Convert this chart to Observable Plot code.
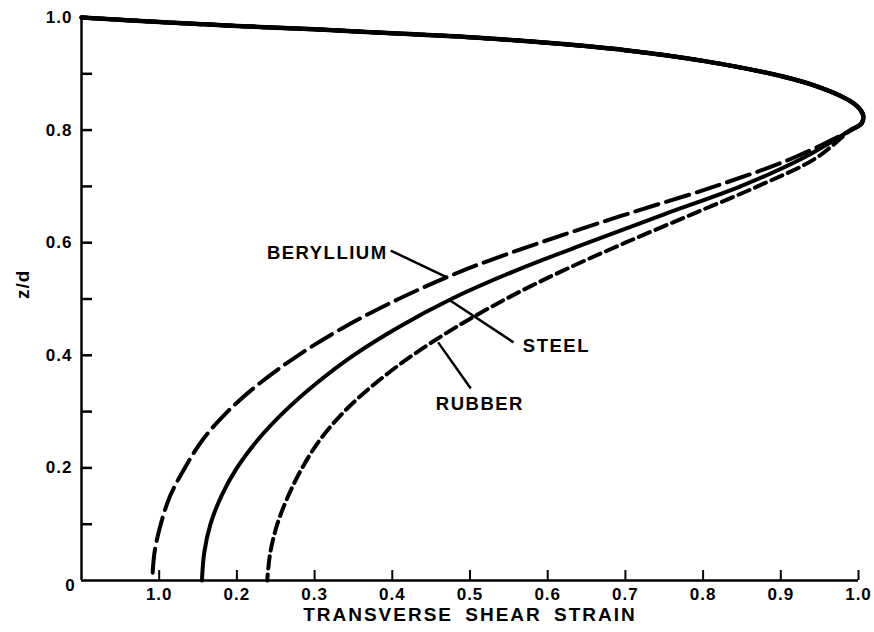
<!DOCTYPE html>
<html><head><meta charset="utf-8">
<script src="https://cdn.jsdelivr.net/npm/d3@7"></script>
<script src="https://cdn.jsdelivr.net/npm/@observablehq/plot@0.6"></script>
<style>
body{margin:0;background:#fff}
#chart svg{display:block}
#chart text{letter-spacing:1px}
#chart .title text{letter-spacing:2px;word-spacing:5px}
#chart .lab text{letter-spacing:1.5px}
</style>
</head><body><div id="chart"></div>
<script>
// Shared upper part of the curve (all three materials coincide), from z/d = 1 down to the split
const topX = [0, 0.1, 0.2, 0.3, 0.4, 0.5, 0.6, 0.7, 0.8, 0.9, 0.95, 0.985, 1.0, 1.006, 1.004, 0.99];
const topY = [1.0, 0.992, 0.985, 0.979, 0.972, 0.965, 0.955, 0.942, 0.923, 0.896, 0.876, 0.855, 0.84, 0.826, 0.812, 0.80];

// Lower branches, z/d from 0.75 down to 0
const branchY = [0.75, 0.7, 0.65, 0.6, 0.55, 0.5, 0.45, 0.4, 0.35, 0.3, 0.25, 0.2, 0.15, 0.1, 0.05, 0.0];
const berylliumX = [0.915, 0.815, 0.70, 0.59, 0.49, 0.408, 0.338, 0.279, 0.229, 0.188, 0.156, 0.133, 0.114, 0.102, 0.094, 0.091];
const steelX     = [0.928, 0.848, 0.749, 0.652, 0.558, 0.476, 0.408, 0.350, 0.302, 0.261, 0.227, 0.20, 0.18, 0.166, 0.158, 0.155];
const rubberX    = [0.945, 0.87, 0.785, 0.70, 0.619, 0.546, 0.482, 0.426, 0.378, 0.338, 0.307, 0.284, 0.266, 0.252, 0.243, 0.239];

// Tick values and labels (as printed on the original)
const xTickValues = [0.1, 0.2, 0.3, 0.4, 0.5, 0.6, 0.7, 0.8, 0.9, 1.0];
const xTickLabels = ["1.0", "0.2", "0.3", "0.4", "0.5", "0.6", "0.7", "0.8", "0.9", "1.0"];
const yTickValues = [0.2, 0.4, 0.6, 0.8, 1.0];
const yTickLabels = ["0.2", "0.4", "0.6", "0.8", "1.0"];
const yMinorTicks = [0.1, 0.3, 0.5, 0.7, 0.9];

// Curve labels and leader lines
const labelNames = ["BERYLLIUM", "STEEL", "RUBBER"];
const labelX = [0.394, 0.568, 0.456];
const labelY = [0.581, 0.416, 0.314];
const labelAnchor = ["end", "start", "start"];
const leaderX1 = [0.398, 0.556, 0.501];
const leaderY1 = [0.586, 0.423, 0.341];
const leaderX2 = [0.471, 0.475, 0.459];
const leaderY2 = [0.538, 0.497, 0.423];

const zip = (xs, ys) => xs.map((x, i) => ({x, y: ys[i]}));
const topData = zip(topX, topY);
const beData = topData.concat(zip(berylliumX, branchY));
const stData = topData.concat(zip(steelX, branchY));
const ruData = topData.concat(zip(rubberX, branchY));
const xTicks = xTickValues.map((v, i) => ({v, label: xTickLabels[i]}));
const yTicks = yTickValues.map((v, i) => ({v, label: yTickLabels[i]}));
const labels = labelNames.map((t, i) => ({t, x: labelX[i], y: labelY[i], a: labelAnchor[i]}));
const leaders = leaderX1.map((x1, i) => ({x1, y1: leaderY1[i], x2: leaderX2[i], y2: leaderY2[i]}));

const font = "'Liberation Sans', Arial, sans-serif";
const chart = Plot.plot({
  width: 874, height: 632,
  marginLeft: 81, marginRight: 16, marginTop: 17, marginBottom: 52,
  x: {domain: [0, 1], axis: null},
  y: {domain: [0, 1], axis: null},
  style: {fontFamily: font, background: "white", color: "black"},
  marks: [
    // axis lines
    Plot.ruleX([0], {y1: 0, y2: 1, stroke: "black", strokeWidth: 2.5}),
    Plot.ruleY([0], {x1: 0, x2: 1, stroke: "black", strokeWidth: 2.5}),
    // inward ticks
    Plot.ruleY([...yTickValues, ...yMinorTicks], {x1: 0, x2: 0, insetRight: -11, stroke: "black", strokeWidth: 2.5}),
    Plot.ruleX(xTickValues, {y1: 0, y2: 0, insetTop: -10, stroke: "black", strokeWidth: 2}),
    // tick labels
    Plot.text(yTicks, {x: 0, y: "v", text: "label", textAnchor: "end", dx: -9, fontSize: 17, fontWeight: "bold"}),
    Plot.text(["0"], {x: 0, y: 0, text: d => d, dx: -11, dy: 5, fontSize: 17, fontWeight: "bold"}),
    Plot.text(xTicks, {x: "v", y: 0, text: "label", dy: 14, fontSize: 17, fontWeight: "bold"}),
    // axis titles
    Plot.text(["TRANSVERSE SHEAR STRAIN"], {frameAnchor: "bottom", dy: 40, fontSize: 19, fontWeight: "bold", className: "title"}),
    Plot.text(["z/d"], {frameAnchor: "left", dx: -59, rotate: -90, fontSize: 19, fontWeight: "bold"}),
    // curves (branches drawn along the full path; the solid shared part is drawn on top)
    Plot.line(beData, {x: "x", y: "y", curve: "catmull-rom", stroke: "black", strokeWidth: 4, strokeDasharray: "24,8"}),
    Plot.line(stData, {x: "x", y: "y", curve: "catmull-rom", stroke: "black", strokeWidth: 4}),
    Plot.line(ruData, {x: "x", y: "y", curve: "catmull-rom", stroke: "black", strokeWidth: 4, strokeDasharray: "12,6"}),
    Plot.line(topData, {x: "x", y: "y", curve: "catmull-rom", stroke: "black", strokeWidth: 4.5}),
    // leaders and labels
    Plot.link(leaders, {x1: "x1", y1: "y1", x2: "x2", y2: "y2", stroke: "black", strokeWidth: 2.5}),
    Plot.text(labels, {x: "x", y: "y", text: "t", textAnchor: "end", fontSize: 18.5, fontWeight: "bold", className: "lab", filter: d => d.a === "end"}),
    Plot.text(labels, {x: "x", y: "y", text: "t", textAnchor: "start", fontSize: 18.5, fontWeight: "bold", className: "lab", filter: d => d.a === "start"})
  ]
});
document.getElementById("chart").appendChild(chart);
</script>
</body></html>
